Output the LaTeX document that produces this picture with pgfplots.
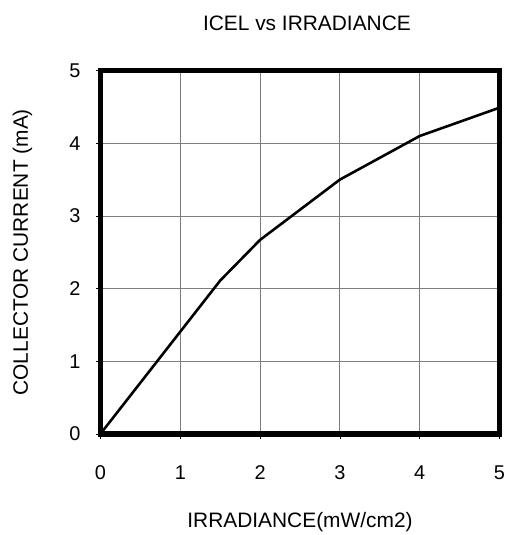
\documentclass[border=0pt]{standalone}
\usepackage{fontspec}
\setmainfont{Liberation Sans}
\usepackage{pgfplots}
\pgfplotsset{compat=1.18}
\definecolor{gridgray}{RGB}{125,125,125}
\begin{document}
\begin{tikzpicture}
\begin{axis}[
  name=ax,
  scale only axis,
  width=401pt, height=365pt,
  xmin=0, xmax=5, ymin=0, ymax=5,
  xtick={0,1,2,3,4,5}, ytick={0,1,2,3,4,5},
  /pgf/number format/assume math mode=true,
  font=\fontsize{20}{24}\selectfont,
  xticklabel style={font=\fontsize{20}{24}\selectfont, anchor=base, yshift=-41pt},
  yticklabel style={font=\fontsize{20}{24}\selectfont, anchor=east, inner sep=0pt, xshift=-15pt},
  xtick pos=left, ytick pos=left,
  tick align=outside,
  major tick length=5pt,
  tick style={black, line width=0.6pt},
  grid=major,
  major grid style={gridgray, line width=0.8pt},
  axis line style={black, line width=5.5pt},
  title={ICEL vs IRRADIANCE},
  title style={at={(axis description cs:0.5,1)}, anchor=base, yshift=34pt, xshift=7pt, font=\fontsize{21}{25}\selectfont},
  xlabel={IRRADIANCE(mW/cm2)},
  xlabel style={at={(axis description cs:0.5,0)}, anchor=base, yshift=-94pt, font=\fontsize{21}{25}\selectfont},
  ylabel={COLLECTOR CURRENT (mA)},
  ylabel style={at={([xshift=-73pt]axis description cs:0,0.5)}, anchor=base, font=\fontsize{21}{25}\selectfont},
]
\addplot[black, line width=2.6pt, line join=round] coordinates {
  (0,0) (1.5,2.11) (2,2.67) (3,3.50) (4,4.10) (5,4.49)
};
\end{axis}
\path ([shift={(-101pt,-99pt)}]ax.south west) rectangle ([shift={(18pt,71pt)}]ax.north east);
\end{tikzpicture}
\end{document}
